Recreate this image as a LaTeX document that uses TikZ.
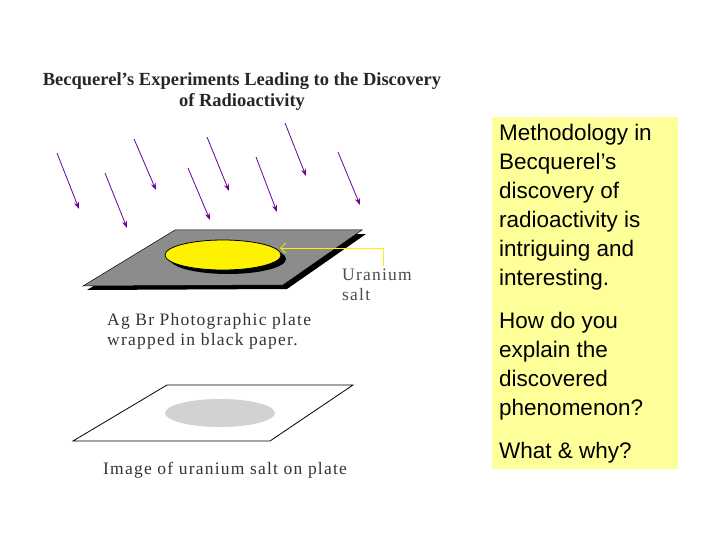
\documentclass[tikz,border=0pt]{standalone}
\usepackage{fontspec}
\setmainfont{Liberation Serif}
\newfontfamily\widefont[LetterSpace=7]{Liberation Serif}
\newfontfamily\boxfont{Liberation Sans}
\usetikzlibrary{arrows.meta}
\definecolor{ray}{HTML}{660099}
\definecolor{boxy}{HTML}{FFFF99}
\begin{document}
\begin{tikzpicture}[x=1pt,y=-1pt,
 rayarrow/.style={ray,line width=0.8pt,-{Stealth[length=7pt,width=5pt]}},
 serif/.style={font=\widefont\fontsize{17.5}{20}\selectfont,align=left,inner sep=0pt,anchor=north west}]
\useasboundingbox (0,0) rectangle (720,540);
\node[font=\bfseries\fontsize{18.5}{21}\selectfont,align=center,text=black!85] (title) at (242,92) {Becquerel's Experiments Leading to the Discovery\\of Radioactivity};
% rays
\foreach \n/\a/\b/\c/\d in {r1/57/153/79/209, r2/105/173/127/228, r3/134/139/156/190, r4/188/168/210/220, r5/207/137/229/191, r6/256/157/277/212, r7/285/123/306/176, r8/338/152/360/205}{
 \coordinate (\n s) at (\a,\b); \coordinate (\n e) at (\c,\d);
 \draw[rayarrow] (\n s) -- (\n e);}
% plate
\fill (179,234) -- (366,234) -- (287,289) -- (87,290) -- cycle;
\filldraw[fill=gray!80!black!75,draw=black,line width=0.5pt] (175,230) -- (362,230) -- (283,285) -- (83,286) -- cycle;
\fill (228,259) ellipse [x radius=58,y radius=15];
\filldraw[fill=yellow,draw=black,line width=0.8pt] (223,255) ellipse [x radius=58,y radius=15];
\coordinate (salt) at (280,248);
\coordinate (bend) at (383,248);
\coordinate (lend) at (383,266);
\draw[yellow,line width=0.8pt,{Straight Barb[length=5pt]}-] (salt) -- (bend) -- (lend);
\node[serif,text=black!70] (ulab) at (342,269) {Uranium\\salt};
\node[serif,text=black!80] (aglab) at (107,313) {Ag Br Photographic plate\\wrapped in black paper.};
% bottom plate
\draw[line width=0.8pt] (167,385) -- (353,385) -- (270,441) -- (73,441) -- cycle;
\fill[gray!35] (220,413) ellipse [x radius=55,y radius=14];
\node[serif,text=black!80] (imglab) at (103,462) {Image of uranium salt on plate};
% box
\node[fill=boxy,minimum width=186pt,minimum height=352pt,inner sep=0pt,anchor=north west] (box) at (492,117) {};
\node[font=\boxfont\fontsize{22.5}{29}\selectfont,align=left,anchor=north west,inner sep=0pt] (btxt) at (499,124)
 {Methodology in\\Becquerel’s\\discovery of\\radioactivity is\\intriguing and\\interesting.\\[14pt]How do you\\explain the\\discovered\\phenomenon?\\[14pt]What \& why?};
\end{tikzpicture}
\end{document}
